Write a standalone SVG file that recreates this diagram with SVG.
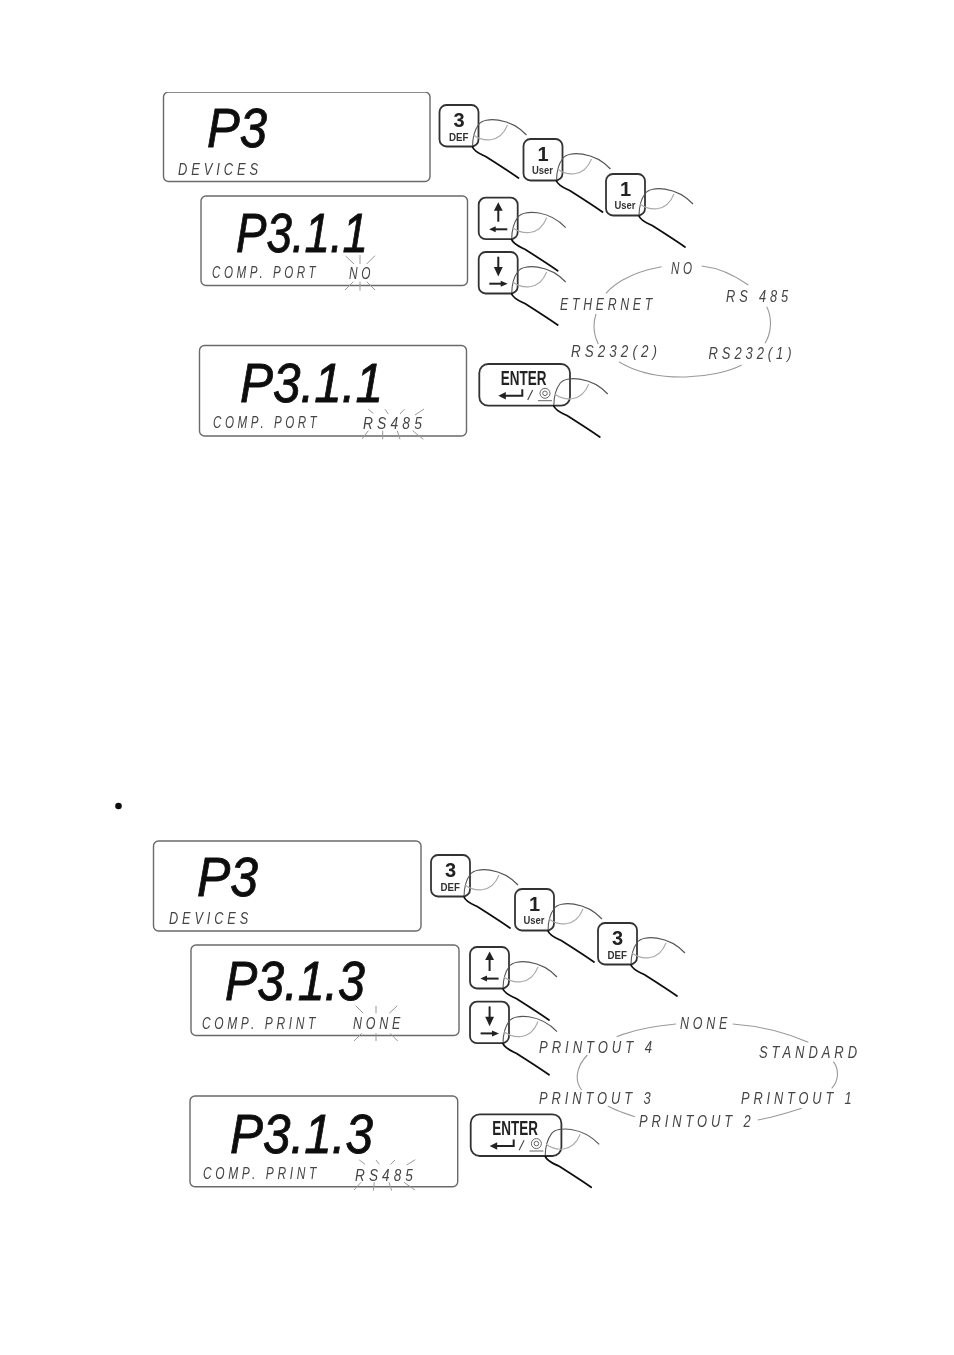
<svg xmlns="http://www.w3.org/2000/svg" width="954" height="1355" viewBox="0 0 954 1355">
<style>
.box{fill:#fff;stroke:#6a6a6a;stroke-width:1.4}
.key{fill:#fff;stroke:#333;stroke-width:1.8}
.big{font-family:"Liberation Sans",Arial,sans-serif;font-style:italic;font-size:56px;fill:#111;stroke:#111;stroke-width:.9}
.lcd{font-family:"Liberation Sans",Arial,sans-serif;font-style:italic;font-size:16.5px;fill:#444;letter-spacing:5px}
.num{font-family:"Liberation Sans",Arial,sans-serif;font-weight:bold;font-size:20px;fill:#222;text-anchor:middle}
.sub{font-family:"Liberation Sans",Arial,sans-serif;font-weight:bold;font-size:11.5px;fill:#333}
.ent{font-family:"Liberation Sans",Arial,sans-serif;font-weight:bold;font-size:20px;fill:#222}
.ray{fill:none;stroke:#999;stroke-width:1}
.arc{fill:none;stroke:#999;stroke-width:1.1}
.ar{fill:none;stroke:#222;stroke-width:2}
.hd{fill:#222}
.fo{fill:none;stroke:#555;stroke-width:1.1}
.fn{fill:none;stroke:#aaa;stroke-width:1.1}
.ft{fill:none;stroke:#111;stroke-width:1.8;stroke-linecap:round}
</style>
<defs>
<filter id="soft" x="0" y="0" width="1" height="1"><feGaussianBlur stdDeviation="0.35"/></filter>
<g id="finger">
<path class="fo" d="M39.5 19C45 12 70 12 87 30M39.5 19C35 25 33 33 33 42"/>
<path class="fn" d="M34 30C42 36 60 40 68 20"/>
<path class="ft" d="M33 42C35 47 41 49 47 52C58 59 69 66 79 73"/>
</g>
<g id="up">
<rect class="key" x="0" y="0" width="39" height="41.5" rx="7"/>
<path class="ar" d="M19.6 11V24"/><path class="hd" d="M19.6 4.5L24 13H15.2Z"/>
<path class="ar" d="M16 31.6H28.6"/><path class="hd" d="M10.4 31.6L17 28.6V34.6Z"/>
</g>
<g id="down">
<rect class="key" x="0" y="0" width="39" height="41.5" rx="7"/>
<path class="ar" d="M19.6 4.7V17"/><path class="hd" d="M19.6 24.5L24 15H15.2Z"/>
<path class="ar" d="M10.6 31.7H23"/><path class="hd" d="M29 31.7L22 28.7V34.7Z"/>
</g>
<g id="enter">
<rect class="key" x="0" y="0" width="90.7" height="41.7" rx="9"/>
<text class="ent" x="21.5" y="21" textLength="45.7" lengthAdjust="spacingAndGlyphs">ENTER</text>
<path class="ar" d="M43 25.3V31.7H25"/><path class="hd" d="M19 31.7L26.5 28V35.4Z"/>
<path fill="none" stroke="#444" stroke-width="1.1" d="M48.4 36L53.4 26"/>
<circle cx="65.7" cy="29.3" r="5" fill="none" stroke="#666"/><circle cx="65.7" cy="29.3" r="2.3" fill="none" stroke="#666"/>
<path fill="none" stroke="#666" d="M58.7 36.7H72.7"/>
</g>
</defs>
<rect width="954" height="1355" fill="#fff"/>
<g filter="url(#soft)">
<g id="display-p3-a">
<rect class="box" x="163.5" y="92" width="266.5" height="89.5" rx="5"/>
<text class="big" x="207" y="147" textLength="60" lengthAdjust="spacingAndGlyphs">P3</text>
<text class="lcd" x="178" y="175" textLength="84" lengthAdjust="spacingAndGlyphs">DEVICES</text>
</g>
<g id="display-p311-no">
<rect class="box" x="201" y="196" width="266.5" height="89.5" rx="5"/>
<text class="big" x="236" y="252" textLength="132" lengthAdjust="spacingAndGlyphs">P3.1.1</text>
<text class="lcd" x="212" y="278" textLength="107" lengthAdjust="spacingAndGlyphs">COMP. PORT</text>
<text class="lcd" x="349" y="279" textLength="25" lengthAdjust="spacingAndGlyphs">NO</text>
<path class="ray" d="M345.700 256L354 264M360 255V264M375 255.700L366.700 264M353.300 281.700L345 290M360 281.700V290.700M366.700 281.700L375 290"/>
</g>
<g id="display-p311-rs485">
<rect class="box" x="199.500" y="345.500" width="267" height="90.500" rx="5"/>
<text class="big" x="240" y="402" textLength="143" lengthAdjust="spacingAndGlyphs">P3.1.1</text>
<text class="lcd" x="213" y="427.500" textLength="107" lengthAdjust="spacingAndGlyphs">COMP. PORT</text>
<text class="lcd" x="363" y="429" textLength="63" lengthAdjust="spacingAndGlyphs">RS485</text>
<path class="ray" d="M368.300 409.300L373.300 413.300M385 409.300L388.300 414M404.300 409.300L400 414M424 409L415 415M368.300 430.700L362.300 438.700M382.700 430.700V439.300M397.300 430.700L400 439.300M412.700 430.700L423.300 439.300"/>
</g>
<g id="display-p3-b">
<rect class="box" x="153.500" y="841" width="267.500" height="90" rx="5"/>
<text class="big" x="197" y="896" textLength="61" lengthAdjust="spacingAndGlyphs">P3</text>
<text class="lcd" x="169" y="924" textLength="83" lengthAdjust="spacingAndGlyphs">DEVICES</text>
</g>
<g id="display-p313-none">
<rect class="box" x="191" y="945" width="268" height="90.500" rx="5"/>
<text class="big" x="225" y="1000" textLength="140" lengthAdjust="spacingAndGlyphs">P3.1.3</text>
<text class="lcd" x="202" y="1028.500" textLength="117" lengthAdjust="spacingAndGlyphs">COMP. PRINT</text>
<text class="lcd" x="353" y="1028.500" textLength="51" lengthAdjust="spacingAndGlyphs">NONE</text>
<path class="ray" d="M355.700 1005.700L363.300 1013.300M376 1005.700V1013.300M397.300 1005.700L389.300 1013.300M361.700 1033.300L354 1041M376 1033.300V1041M390 1033.300L397.700 1041"/>
</g>
<g id="display-p313-rs485">
<rect class="box" x="190" y="1096" width="267.700" height="90.700" rx="5"/>
<text class="big" x="230" y="1153" textLength="143" lengthAdjust="spacingAndGlyphs">P3.1.3</text>
<text class="lcd" x="203" y="1179" textLength="117" lengthAdjust="spacingAndGlyphs">COMP. PRINT</text>
<text class="lcd" x="355" y="1180.500" textLength="62" lengthAdjust="spacingAndGlyphs">RS485</text>
<path class="ray" d="M359.300 1160L365 1164.300M376 1160L379.300 1164.300M395 1160L390.700 1164.300M415.300 1159.700L406.700 1165M361 1182.300L354 1190M374.300 1182.300L373.300 1190.700M389 1182.300L391.700 1190.700M404 1182.300L415 1190"/>
</g>
<g id="key-3-def-a" transform="translate(439.500 105)">
<rect class="key" width="39" height="41.500" rx="7"/><text class="num" x="19.500" y="21.700">3</text>
<text class="sub" x="9.500" y="35.700" textLength="19.500" lengthAdjust="spacingAndGlyphs">DEF</text><use href="#finger"/></g>
<g id="key-1-user-a" transform="translate(523.500 139)">
<rect class="key" width="39" height="41.500" rx="7"/><text class="num" x="19.500" y="21.500">1</text>
<text class="sub" x="8.500" y="35" textLength="21" lengthAdjust="spacingAndGlyphs">User</text><use href="#finger"/></g>
<g id="key-1-user-b" transform="translate(606 174)">
<rect class="key" width="39" height="41.500" rx="7"/><text class="num" x="19.500" y="21.500">1</text>
<text class="sub" x="8.500" y="35" textLength="21" lengthAdjust="spacingAndGlyphs">User</text><use href="#finger"/></g>
<g id="key-up-a" transform="translate(478.700 197.700)"><use href="#up"/><use href="#finger"/></g>
<g id="key-down-a" transform="translate(478.700 252)"><use href="#down"/><use href="#finger"/></g>
<g id="key-enter-a" transform="translate(479.300 364)"><use href="#enter"/><use href="#finger" transform="translate(41.500 0)"/></g>
<g id="key-3-def-b" transform="translate(431 855)">
<rect class="key" width="39" height="41.500" rx="7"/><text class="num" x="19.500" y="21.700">3</text>
<text class="sub" x="9.500" y="35.700" textLength="19.500" lengthAdjust="spacingAndGlyphs">DEF</text><use href="#finger"/></g>
<g id="key-1-user-c" transform="translate(515 889)">
<rect class="key" width="39" height="41.500" rx="7"/><text class="num" x="19.500" y="21.500">1</text>
<text class="sub" x="8.500" y="35" textLength="21" lengthAdjust="spacingAndGlyphs">User</text><use href="#finger"/></g>
<g id="key-3-def-c" transform="translate(598 923)">
<rect class="key" width="39" height="41.500" rx="7"/><text class="num" x="19.500" y="21.700">3</text>
<text class="sub" x="9.500" y="35.700" textLength="19.500" lengthAdjust="spacingAndGlyphs">DEF</text><use href="#finger"/></g>
<g id="key-up-b" transform="translate(470 947)"><use href="#up"/><use href="#finger"/></g>
<g id="key-down-b" transform="translate(470 1001.700)"><use href="#down"/><use href="#finger"/></g>
<g id="key-enter-b" transform="translate(470.700 1114.300)"><use href="#enter"/><use href="#finger" transform="translate(41.500 0)"/></g>
<g id="connectors">
<path class="arc" d="M606 293.300C620 278 643 270 661.700 266.700M701.700 266C720 268 737 277 748.300 285M766.700 306.700C772 317 772 332 765 343.300M741.700 365C717 378 657 385 619 361.700M598.300 344C593 333 593 323 596 314"/>
<path class="arc" d="M616.700 1036.700C633 1030 653 1026 676 1024M732.700 1024C760 1026 787 1033 808.300 1042.300M833.300 1061.700C840 1070 838 1082 831.700 1088.300M801.700 1108.300C787 1113 770 1118 757.700 1120M635 1116.700C623 1113 615 1110 607.700 1106M581.700 1090C575 1082 575 1068 587.300 1055"/>
</g>
<g id="ring-a">
<text class="lcd" x="671" y="274" textLength="24.500" lengthAdjust="spacingAndGlyphs">NO</text>
<text class="lcd" x="726" y="302.300" textLength="66" lengthAdjust="spacingAndGlyphs">RS 485</text>
<text class="lcd" x="560" y="310" textLength="96" lengthAdjust="spacingAndGlyphs">ETHERNET</text>
<text class="lcd" x="571" y="356.700" textLength="90" lengthAdjust="spacingAndGlyphs">RS232(2)</text>
<text class="lcd" x="708.500" y="359" textLength="87" lengthAdjust="spacingAndGlyphs">RS232(1)</text>
</g>
<g id="ring-b">
<text class="lcd" x="680" y="1029.300" textLength="51" lengthAdjust="spacingAndGlyphs">NONE</text>
<text class="lcd" x="759" y="1058.300" textLength="102" lengthAdjust="spacingAndGlyphs">STANDARD</text>
<text class="lcd" x="539" y="1052.700" textLength="117" lengthAdjust="spacingAndGlyphs">PRINTOUT 4</text>
<text class="lcd" x="539" y="1104.300" textLength="115.500" lengthAdjust="spacingAndGlyphs">PRINTOUT 3</text>
<text class="lcd" x="741" y="1104.300" textLength="114.500" lengthAdjust="spacingAndGlyphs">PRINTOUT 1</text>
<text class="lcd" x="639" y="1126.700" textLength="115.500" lengthAdjust="spacingAndGlyphs">PRINTOUT 2</text>
</g>
<circle id="bullet" cx="118.500" cy="806" r="3.300" fill="#111"/>
</g>
</svg>
